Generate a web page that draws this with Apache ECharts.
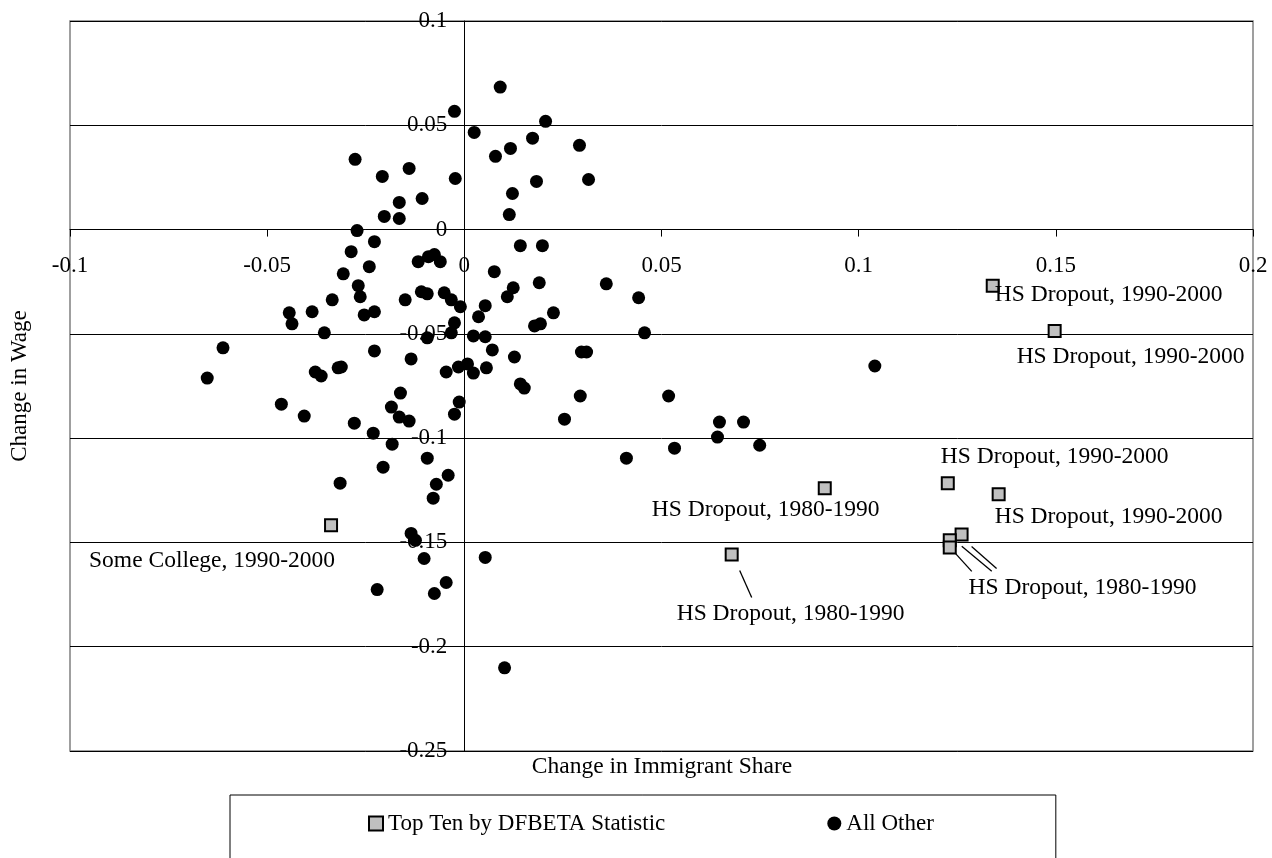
<!DOCTYPE html>
<html>
<head>
<meta charset="utf-8">
<script src="https://cdn.jsdelivr.net/npm/echarts@6/dist/echarts.min.js"></script>
<style>
html,body{margin:0;padding:0;background:#fff;}
#chart{width:1272px;height:858px;}
</style>
</head>
<body>
<div id="chart"></div>
<script>
// ---- data ----
const otherX = [0.0091,-0.0025,0.0025,0.0206,-0.0277,-0.0208,-0.0140,-0.0023,0.0079,0.0117,0.0173,0.0292,0.0315,0.0183,0.0122,0.0114,-0.0165,-0.0107,-0.0203,-0.0165,-0.0272,-0.0228,0.0142,0.0198,
-0.0287,-0.0241,-0.0307,-0.0117,-0.0091,-0.0076,-0.0061,0.0076,-0.0269,-0.0264,-0.0109,-0.0094,-0.0150,-0.0051,-0.0033,-0.0010,0.0053,0.0124,0.0109,0.0190,0.0226,0.0178,0.0193,-0.0254,-0.0228,-0.0025,0.0036,-0.0033,-0.0094,0.0023,0.0053,0.0071,-0.0228,-0.0312,-0.0135,0.0127,-0.0046,-0.0015,0.0008,0.0023,0.0056,0.0142,0.0152,-0.0162,-0.0013,-0.0185,-0.0165,-0.0140,-0.0025,-0.0279,-0.0231,-0.0183,0.0254,
-0.0335,-0.0444,-0.0386,-0.0437,-0.0355,-0.0612,-0.0652,-0.0378,-0.0363,-0.0320,-0.0464,-0.0406,
-0.0094,-0.0206,-0.0041,-0.0315,-0.0071,-0.0079,-0.0135,-0.0124,-0.0102,0.0053,-0.0221,-0.0046,-0.0076,0.0102,
0.0360,0.0442,0.0457,0.0297,0.0310,0.0294,0.0518,0.0647,0.0708,0.0642,0.0533,0.0749,0.0411,0.1041];
const otherY = [0.0683,0.0567,0.0466,0.0519,0.0337,0.0255,0.0293,0.0245,0.0351,0.0389,0.0438,0.0404,0.0240,0.0231,0.0173,0.0072,0.0130,0.0149,0.0063,0.0053,-0.0005,-0.0058,-0.0077,-0.0077,
-0.0106,-0.0178,-0.0212,-0.0154,-0.0130,-0.0120,-0.0154,-0.0202,-0.0269,-0.0322,-0.0298,-0.0308,-0.0337,-0.0303,-0.0337,-0.0370,-0.0365,-0.0279,-0.0322,-0.0255,-0.0399,-0.0462,-0.0452,-0.0409,-0.0394,-0.0447,-0.0418,-0.0495,-0.0519,-0.0510,-0.0514,-0.0577,-0.0582,-0.0659,-0.0620,-0.0611,-0.0683,-0.0659,-0.0644,-0.0688,-0.0663,-0.0740,-0.0760,-0.0784,-0.0827,-0.0851,-0.0899,-0.0918,-0.0885,-0.0928,-0.0976,-0.1029,-0.0909,
-0.0337,-0.0399,-0.0394,-0.0452,-0.0495,-0.0567,-0.0712,-0.0683,-0.0702,-0.0663,-0.0837,-0.0894,
-0.1096,-0.1139,-0.1178,-0.1216,-0.1221,-0.1288,-0.1457,-0.1490,-0.1577,-0.1572,-0.1726,-0.1692,-0.1745,-0.2101,
-0.0260,-0.0327,-0.0495,-0.0587,-0.0587,-0.0798,-0.0798,-0.0923,-0.0923,-0.0995,-0.1048,-0.1034,-0.1096,-0.0654];

const topX = [0.1340,0.1497,0.1226,0.1355,0.1261,0.1231,0.1231,0.0914,0.0678,-0.0338];
const topY = [-0.0269,-0.0486,-0.1216,-0.1269,-0.1462,-0.1490,-0.1524,-0.1240,-0.1558,-0.1418];
const topLabels = ["HS Dropout, 1990-2000","HS Dropout, 1990-2000","HS Dropout, 1990-2000","HS Dropout, 1990-2000",
  "HS Dropout, 1980-1990","HS Dropout, 1980-1990","HS Dropout, 1980-1990","HS Dropout, 1980-1990","HS Dropout, 1980-1990",
  "Some College, 1990-2000"];

const xTickLabels = ['-0.1','-0.05','0','0.05','0.1','0.15','0.2'];
const yTickLabels = ['-0.25','-0.2','-0.15','-0.1','-0.05','0','0.05','0.1'];
const seriesNames = ['Top Ten by DFBETA Statistic','All Other'];
const xTitle = 'Change in Immigrant Share';
const yTitle = 'Change in Wage';

// ---- layout (pixel offsets of labels / leader lines, not data) ----
const labelOffsets = [[2,9],[-38,26],[-7,-26],[-4,23],[7,53],null,null,[-173,22],[-55,59],[-242,36]];
const leaders = [
  {i:8, from:[8,16], to:[20,43]},
  {i:6, from:[2,2], to:[22,24]},
  {i:5, from:[12,6], to:[42,31]},
  {i:4, from:[10,12], to:[35,34]}
];

const FONT = 'Liberation Serif, Times New Roman, serif';
const xMin=-0.1, xMax=0.2, yMin=-0.25, yMax=0.1, step=0.05;
const G = {left:70, right:19, top:21, bottom:107};

const chart = echarts.init(document.getElementById('chart'), null, {renderer:'canvas'});

const otherData = otherX.map((x,k)=>[x, otherY[k]]);
const topData = topX.map((x,k)=>{
  const off = labelOffsets[k];
  return {
    value:[x, topY[k]],
    label: off ? {show:true, formatter: topLabels[k], position:'inside', align:'left', verticalAlign:'middle', offset:off} : {show:false}
  };
});

chart.setOption({
  animation:false,
  backgroundColor:'#fff',
  grid:{left:G.left, right:G.right, top:G.top, bottom:G.bottom, show:true, borderColor:'#808080', borderWidth:1.5, backgroundColor:'transparent'},
  xAxis:{
    type:'value', min:xMin, max:xMax, interval:step, position:'bottom',
    axisLine:{show:true, onZero:false, lineStyle:{color:'#000', width:1}},
    axisTick:{show:true, inside:false, length:7, lineStyle:{color:'#000'}},
    axisLabel:{show:true, margin:25, color:'#000', fontSize:23, fontFamily:FONT, showMinLabel:true, showMaxLabel:true,
      formatter:(v)=>xTickLabels[Math.round((v-xMin)/step)]},
    splitLine:{show:false}
  },
  yAxis:{
    type:'value', min:yMin, max:yMax, interval:step, position:'left',
    axisLine:{show:true, onZero:false, lineStyle:{color:'#000', width:1}},
    axisTick:{show:true, inside:false, length:7, lineStyle:{color:'#000'}},
    axisLabel:{show:true, margin:17, color:'#000', fontSize:23, fontFamily:FONT, showMinLabel:true, showMaxLabel:true,
      formatter:(v)=>yTickLabels[Math.round((v-yMin)/step)]},
    splitLine:{show:true, lineStyle:{color:'#000', width:1}}
  },
  legend:{
    data:seriesNames,
    left:230, top:795,
    orient:'horizontal',
    padding:[17,122,40,138],
    itemGap:162,
    itemWidth:14, itemHeight:14,
    borderColor:'#000', borderWidth:1,
    textStyle:{color:'#000', fontSize:23, fontFamily:FONT}
  },
  graphic:[
    {type:'text', x:662, y:767, style:{text:xTitle, fill:'#000', font:'23.5px '+FONT, align:'center', verticalAlign:'middle'}},
    {type:'text', x:20, y:386, rotation:Math.PI/2, style:{text:yTitle, fill:'#000', font:'23px '+FONT, align:'center', verticalAlign:'middle'}}
  ],
  series:[
    {
      name:seriesNames[1], type:'scatter', symbol:'circle', symbolSize:13,
      itemStyle:{color:'#000', opacity:1}, data:otherData, z:2
    },
    {
      name:seriesNames[0], type:'scatter', symbol:'rect', symbolSize:12,
      itemStyle:{color:'#c0c0c0', borderColor:'#000', borderWidth:2, opacity:1},
      label:{color:'#000', fontSize:23.5, fontFamily:FONT},
      data:topData, z:4
    },
    {
      type:'custom', name:'leaders', z:3, silent:true,
      data: leaders.map(l=>[topX[l.i], topY[l.i]]),
      renderItem:(params, api)=>{
        const L = leaders[params.dataIndex];
        const p = api.coord([api.value(0), api.value(1)]);
        return {type:'line', shape:{x1:p[0]+L.from[0], y1:p[1]+L.from[1], x2:p[0]+L.to[0], y2:p[1]+L.to[1]},
          style:{stroke:'#000', lineWidth:1.3}};
      }
    }
  ]
});

// Axes cross at zero: shift each axis (line, ticks, labels) to the other axis's zero.
const zero = chart.convertToPixel({gridIndex:0}, [0,0]);
const gridBottomPx = chart.getHeight() - G.bottom;
chart.setOption({
  xAxis:{offset: zero[1] - gridBottomPx},
  yAxis:{offset: G.left - zero[0]}
});
</script>
</body>
</html>
